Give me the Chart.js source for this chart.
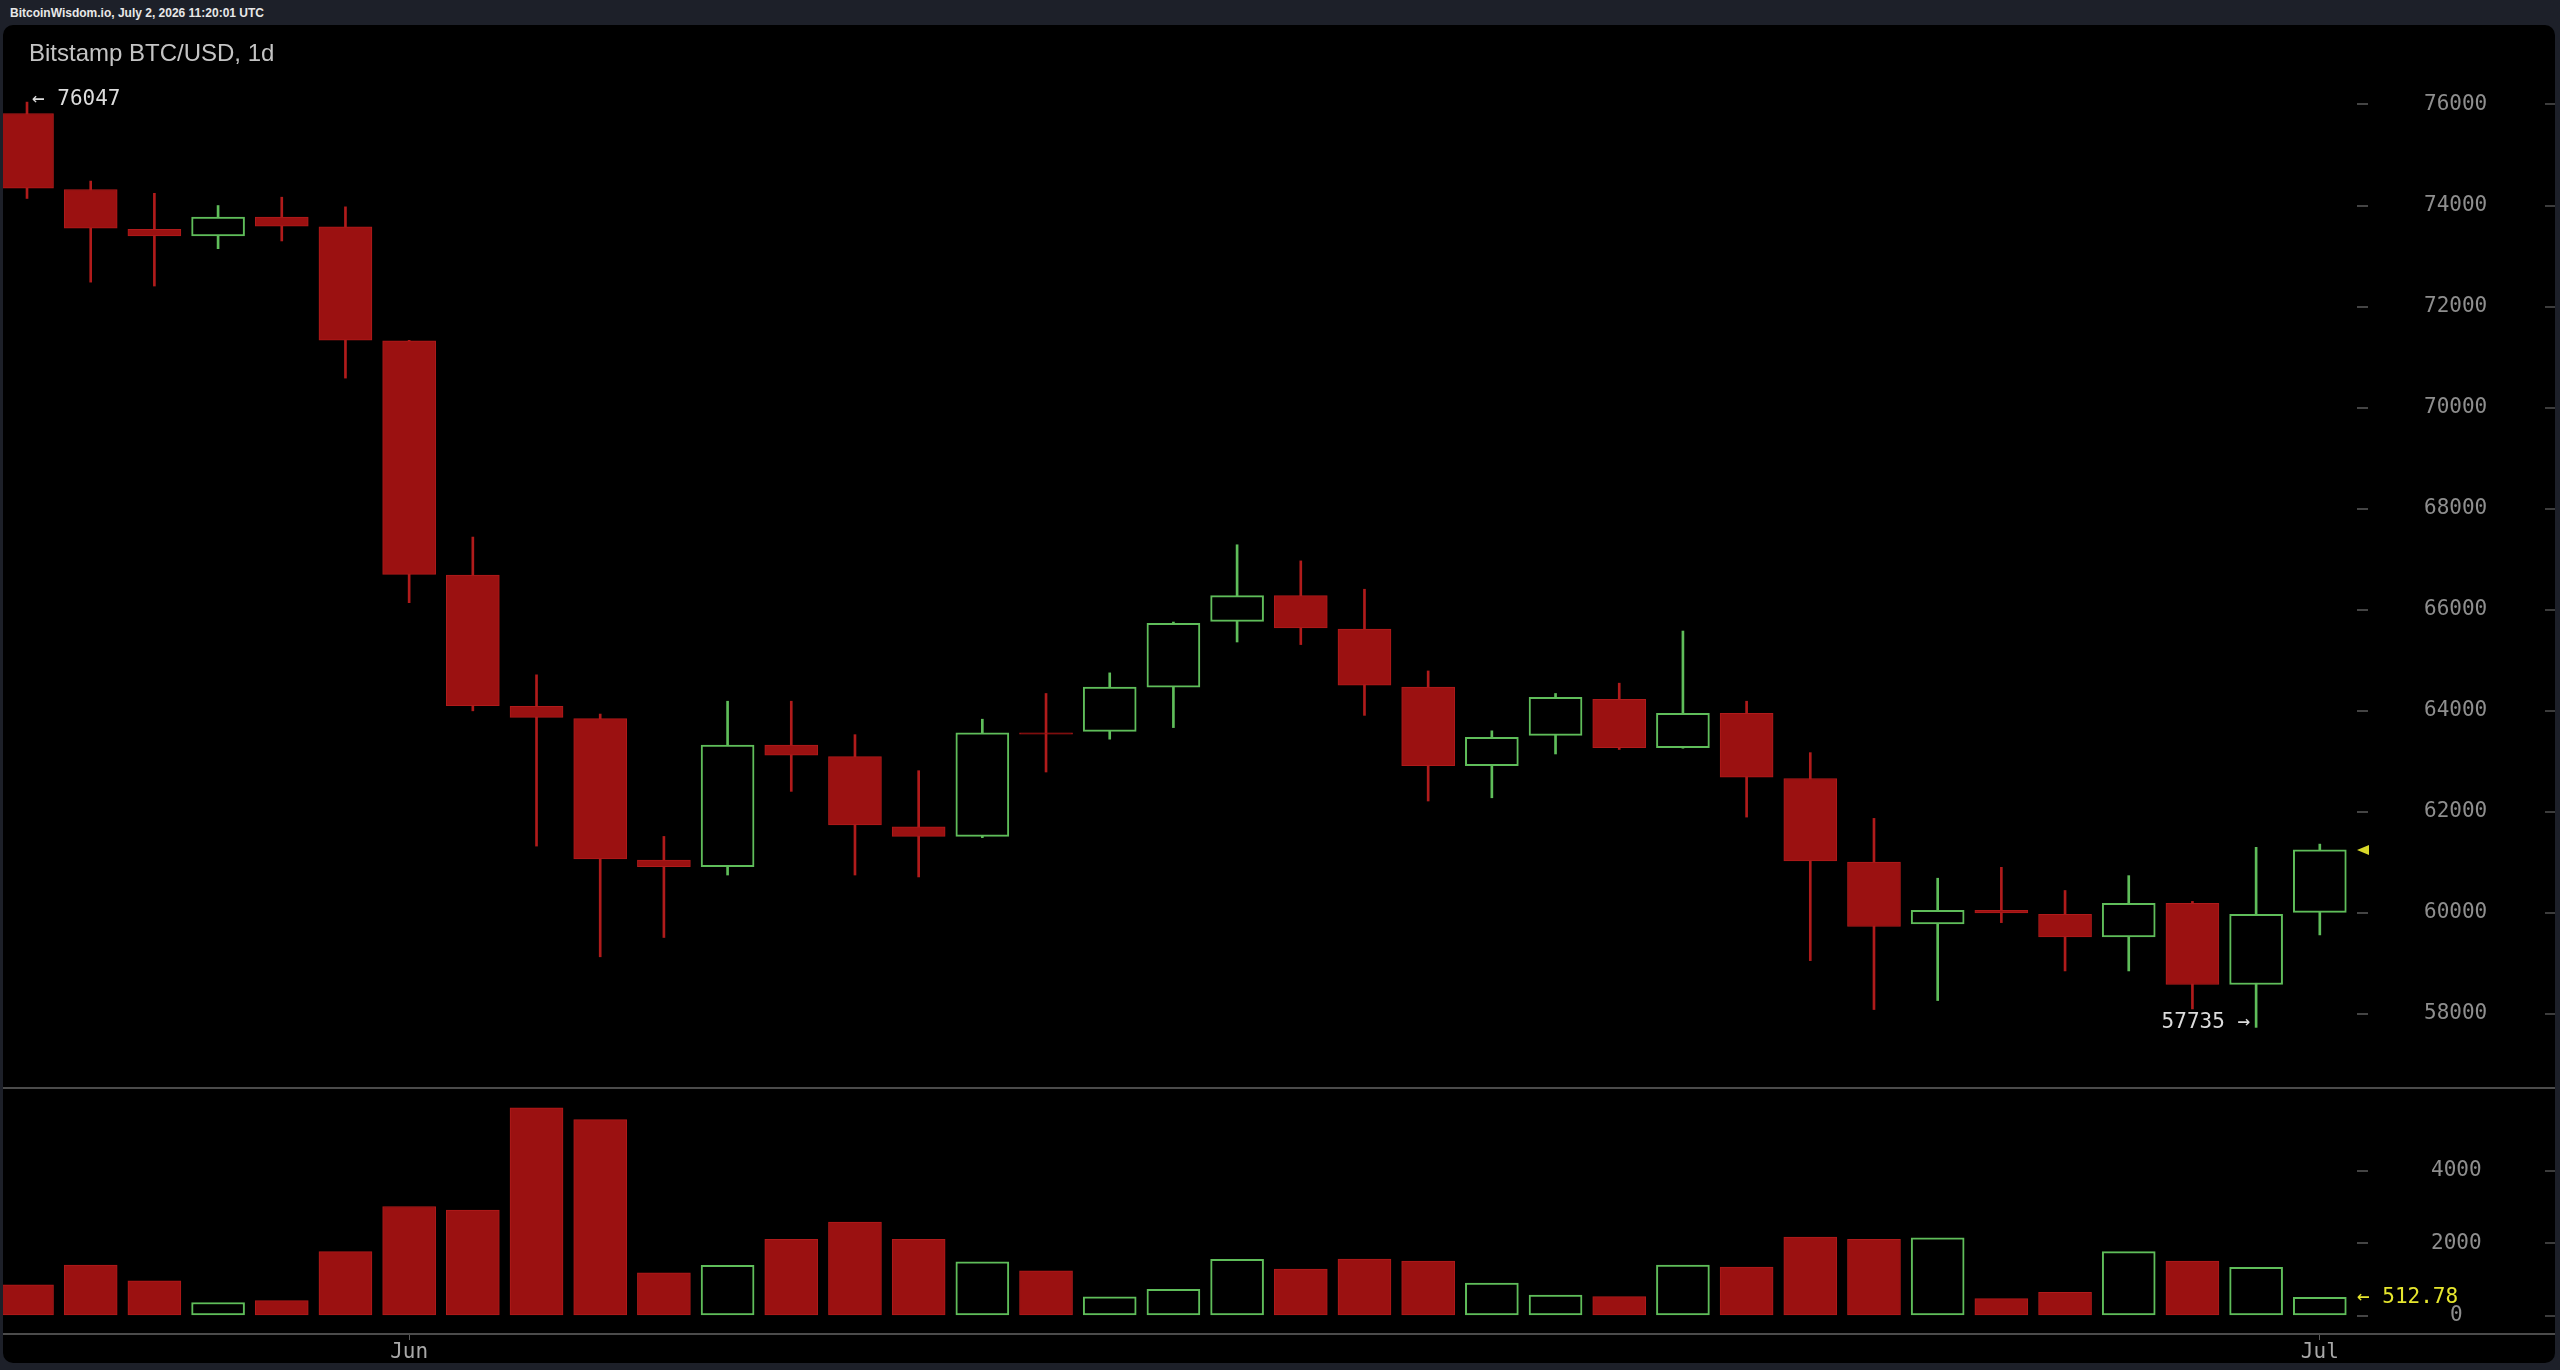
<!DOCTYPE html>
<html>
<head>
<meta charset="utf-8">
<title>Bitstamp BTC/USD, 1d</title>
<script src="https://cdn.jsdelivr.net/npm/chart.js@4.4.1/dist/chart.umd.min.js"></script>
<style>
  html, body { margin: 0; padding: 0; background: #1d2029; }
  body { width: 2560px; height: 1370px; position: relative; overflow: hidden; font-family: "Liberation Sans", Arial, sans-serif; }
  #topbar { position: absolute; left: 10px; top: 6px; font-size: 12px; font-weight: bold; color: #e8e8e8; }
  #panel { position: absolute; left: 3px; top: 25px; width: 2552px; height: 1338px; background: #000; border-radius: 10px; overflow: hidden; }
  #title { position: absolute; left: 26px; top: 14px; font-size: 24px; color: #c4c4c4; z-index: 2; }
  #priceChart { position: absolute; left: 0; top: 0; }
  #volumeChart { position: absolute; left: 0; top: 1064px; }
  .rule { position: absolute; left: 0; width: 2552px; height: 2px; background: #4b4b4b; }
</style>
</head>
<body>
<div id="topbar">BitcoinWisdom.io, July 2, 2026 11:20:01 UTC</div>
<div id="panel">
  <div id="title">Bitstamp BTC/USD, 1d</div>
  <canvas id="priceChart" width="2552" height="1062"></canvas>
  <div class="rule" style="top:1062px"></div>
  <canvas id="volumeChart" width="2552" height="274"></canvas>
  <div class="rule" style="top:1308px"></div>
</div>
<script>
// Daily candles.
const days = [
  "2026-05-26", "2026-05-27", "2026-05-28", "2026-05-29", "2026-05-30", "2026-05-31",
  "2026-06-01", "2026-06-02", "2026-06-03", "2026-06-04", "2026-06-05", "2026-06-06",
  "2026-06-07", "2026-06-08", "2026-06-09", "2026-06-10", "2026-06-11", "2026-06-12",
  "2026-06-13", "2026-06-14", "2026-06-15", "2026-06-16", "2026-06-17", "2026-06-18",
  "2026-06-19", "2026-06-20", "2026-06-21", "2026-06-22", "2026-06-23", "2026-06-24",
  "2026-06-25", "2026-06-26", "2026-06-27", "2026-06-28", "2026-06-29", "2026-06-30",
  "2026-07-01"
];
const openPrices = [
  75822, 74318, 73528, 73401, 73770, 73579, 71324, 66687, 64088, 63846,
  61044, 60916, 63324, 63095, 61706, 61515, 63566, 63592, 64470, 65770,
  66279, 65617, 64470, 62916, 63515, 64228, 63273, 63948, 62661, 61005,
  59782, 60050, 59973, 59527, 60190, 58584, 60011
];
const highPrices = [
  76047, 74484, 74242, 74000, 74165, 73974, 71330, 67439, 64712, 63936,
  61514, 64190, 64190, 63528, 62815, 63834, 64343, 64751, 65757, 67286,
  66967, 66406, 64789, 63604, 64343, 64547, 65579, 64190, 63172, 61871,
  60687, 60903, 60444, 60738, 60228, 61298, 61362
];
const lowPrices = [
  74140, 72484, 72407, 73146, 73299, 70585, 66139, 64000, 61323, 59132,
  59514, 60750, 62406, 60750, 60712, 61490, 62789, 63439, 63668, 65362,
  65311, 63910, 62215, 62279, 63146, 63235, 63260, 61897, 59056, 58088,
  58266, 59808, 58852, 58852, 58100, 57735, 59565
];
const closePrices = [
  74344, 73554, 73401, 73770, 73592, 71337, 66700, 64101, 63871, 61069,
  60916, 63324, 63120, 61744, 61515, 63566, 63540, 64470, 65731, 66279,
  65642, 64508, 62916, 63477, 64266, 63273, 63948, 62687, 61031, 59731,
  60050, 59999, 59527, 60190, 58584, 59973, 61247
];
const volumes = [
  862, 1406, 970, 372, 426, 1778, 3020, 2920, 5741, 5415,
  1188, 1397, 2113, 2594, 2113, 1497, 1243, 526, 735, 1560,
  1297, 1569, 1515, 907, 580, 535, 1406, 1351, 2177, 2113,
  2159, 481, 653, 1778, 1515, 1342, 512.78
];
const priceTicks = [58000, 60000, 62000, 64000, 66000, 68000, 70000, 72000, 74000, 76000];
const volumeTicks = [0, 2000, 4000];
const monthNames = ["Jan", "Feb", "Mar", "Apr", "May", "Jun", "Jul", "Aug", "Sep", "Oct", "Nov", "Dec"];

const UP = "#5fbd5a";
const DOWN_FILL = "#9b1111";
const DOWN_LINE = "#b01b1b";
const AXIS_FONT = { family: "DejaVu Sans Mono", size: 21 };

// Visible index window of the x axis (a little of the first candle is cut off).
const X_MIN = -0.377;
const X_MAX = 36.584;

const isUp = closePrices.map((c, i) => c >= openPrices[i]);
const lineColors = isUp.map(up => (up ? UP : DOWN_LINE));
const fillColors = isUp.map(up => (up ? "#000000" : DOWN_FILL));
const borderWidths = isUp.map(up => (up ? 2 : 1));

// Month starts get a label on the time axis.
const monthStarts = days
  .map((d, i) => ({ i: i, d: d }))
  .filter(o => o.d.slice(8) === "01")
  .map(o => o.i);

function monthLabel(i) {
  return monthNames[parseInt(days[i].slice(5, 7), 10) - 1];
}

function xAxis(show) {
  return {
    type: "linear",
    min: X_MIN,
    max: X_MAX,
    offset: false,
    display: show,
    afterBuildTicks: s => { s.ticks = monthStarts.map(i => ({ value: i })); },
    afterFit: s => { s.height = show ? 30 : 0; s.paddingLeft = 0; s.paddingRight = 0; },
    grid: { offset: false, drawOnChartArea: false, drawTicks: true, tickLength: 7, color: "#5a5a5a", lineWidth: 1 },
    border: { display: false },
    ticks: {
      color: "#a8a8a8",
      font: AXIS_FONT,
      padding: 0,
      maxRotation: 0,
      autoSkip: false,
      callback: v => monthLabel(v)
    }
  };
}

function yAxis(min, max, ticks, padding) {
  return {
    position: "right",
    min: min,
    max: max,
    afterBuildTicks: s => { s.ticks = ticks.map(v => ({ value: v })); },
    afterFit: s => { s.width = 198; s.paddingTop = 0; s.paddingBottom = 0; },
    grid: { drawOnChartArea: false, drawTicks: true, tickLength: 11, color: "#444444", lineWidth: 2 },
    border: { display: false },
    ticks: {
      crossAlign: "center",
      padding: padding,
      color: "#8e8e8e",
      font: AXIS_FONT,
      callback: v => String(v)
    }
  };
}

// Short dashes on the right edge, one per tick.
function drawEdgeDashes(chart, scale) {
  const ctx = chart.ctx;
  ctx.save();
  ctx.strokeStyle = "#3c3c3c";
  ctx.lineWidth = 2;
  scale.ticks.forEach(t => {
    const y = Math.round(scale.getPixelForValue(t.value));
    ctx.beginPath();
    ctx.moveTo(chart.width - 10, y);
    ctx.lineTo(chart.width, y);
    ctx.stroke();
  });
  ctx.restore();
}

const priceMarks = {
  id: "priceMarks",
  afterDraw(chart) {
    const ctx = chart.ctx;
    const xs = chart.scales.x;
    const ys = chart.scales.y;
    const hi = Math.max(...highPrices);
    const iHi = highPrices.indexOf(hi);
    const lo = Math.min(...lowPrices);
    const iLo = lowPrices.indexOf(lo);
    const last = closePrices.length - 1;

    ctx.save();
    ctx.font = "21px 'DejaVu Sans Mono'";
    ctx.fillStyle = "#dcdcdc";
    ctx.textBaseline = "middle";
    ctx.textAlign = "left";
    ctx.fillText("\u2190 " + hi, xs.getPixelForValue(iHi) + 5, ys.getPixelForValue(hi) - 3);
    ctx.textAlign = "right";
    ctx.fillText(lo + " \u2192", xs.getPixelForValue(iLo) - 6, ys.getPixelForValue(lo) - 5);

    // last close marker
    const r = chart.chartArea.right;
    const yc = ys.getPixelForValue(closePrices[last]);
    ctx.fillStyle = "#d8d82a";
    ctx.beginPath();
    ctx.moveTo(r, yc);
    ctx.lineTo(r + 12, yc - 5);
    ctx.lineTo(r + 12, yc + 5);
    ctx.closePath();
    ctx.fill();
    ctx.restore();

    drawEdgeDashes(chart, ys);
  }
};

const volumeMarks = {
  id: "volumeMarks",
  afterDraw(chart) {
    const ctx = chart.ctx;
    const ys = chart.scales.y;
    const last = volumes.length - 1;
    ctx.save();
    ctx.font = "21px 'DejaVu Sans Mono'";
    ctx.fillStyle = "#e6e62e";
    ctx.textBaseline = "middle";
    ctx.textAlign = "left";
    ctx.fillText("\u2190 " + volumes[last].toFixed(2), chart.chartArea.right, ys.getPixelForValue(volumes[last]));
    ctx.restore();
    drawEdgeDashes(chart, ys);
  }
};

const commonOptions = {
  responsive: false,
  animation: false,
  events: [],
  layout: { padding: 0, autoPadding: false },
  plugins: { legend: { display: false }, tooltip: { enabled: false }, title: { display: false } }
};

new Chart(document.getElementById("priceChart"), {
  type: "bar",
  data: {
    datasets: [
      {
        label: "body",
        order: 0,
        grouped: false,
        barThickness: 53,
        data: days.map((d, i) => ({ x: i, y: [openPrices[i], closePrices[i]] })),
        backgroundColor: fillColors,
        borderColor: lineColors,
        borderWidth: borderWidths,
        borderSkipped: false
      },
      {
        label: "wick",
        order: 1,
        grouped: false,
        barThickness: 2,
        data: days.map((d, i) => ({ x: i, y: [lowPrices[i], highPrices[i]] })),
        backgroundColor: lineColors,
        borderWidth: 0
      }
    ]
  },
  options: Object.assign({}, commonOptions, {
    scales: {
      x: xAxis(false),
      y: yAxis(56555, 77573, priceTicks, 56)
    }
  }),
  plugins: [priceMarks]
});

new Chart(document.getElementById("volumeChart"), {
  type: "bar",
  data: {
    datasets: [
      {
        label: "volume",
        grouped: false,
        barThickness: 53,
        data: days.map((d, i) => ({ x: i, y: volumes[i] })),
        backgroundColor: fillColors,
        borderColor: lineColors,
        borderWidth: borderWidths,
        borderSkipped: false
      }
    ]
  },
  options: Object.assign({}, commonOptions, {
    scales: {
      x: xAxis(true),
      y: yAxis(-469, 6262, volumeTicks, 63)
    }
  }),
  plugins: [volumeMarks]
});
</script>
</body>
</html>
